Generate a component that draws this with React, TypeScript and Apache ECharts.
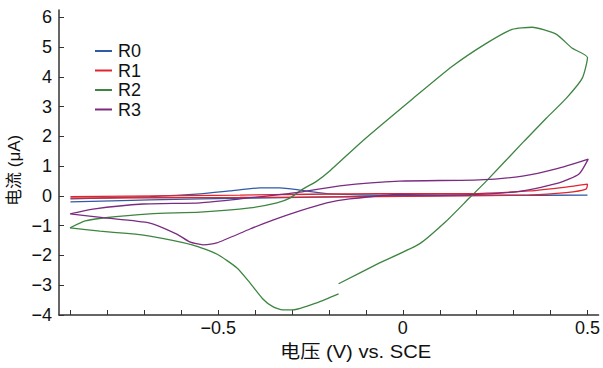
import React, { useEffect, useRef } from "react";
import * as echarts from "echarts";

// Potential (V vs. SCE) and current (μA) points
const r0: number[][] = [
  [-0.90, -0.10], [-0.685, -0.02], [-0.549, 0.07], [-0.468, 0.17], [-0.387, 0.27],
  [-0.333, 0.27], [-0.279, 0.20], [-0.198, 0.07], [-0.009, 0.03], [0.261, 0.03],
  [0.50, 0.03], [0.261, 0.02], [-0.009, 0.0], [-0.279, -0.05], [-0.549, -0.10],
  [-0.685, -0.13], [-0.90, -0.20],
];

const r1: number[][] = [
  [-0.90, -0.02], [-0.441, 0.03], [-0.063, 0.08], [0.18, 0.08], [0.342, 0.17],
  [0.442, 0.30], [0.50, 0.40], [0.496, 0.23], [0.442, 0.11], [0.342, 0.03],
  [-0.063, -0.02], [-0.441, -0.05], [-0.90, -0.07],
];

// R2 has a small break in its return sweep, so it is kept in two parts
const r2a: number[][] = [
  [-0.901, -1.07], [-0.86, -0.84], [-0.812, -0.74], [-0.685, -0.60], [-0.549, -0.54],
  [-0.414, -0.40], [-0.341, -0.23], [-0.306, -0.07], [-0.271, 0.23], [-0.233, 0.50],
  [-0.198, 0.84], [-0.109, 1.85], [0.026, 3.26], [0.134, 4.36], [0.226, 5.13],
  [0.296, 5.60], [0.35, 5.67], [0.415, 5.44], [0.458, 4.97], [0.50, 4.65],
  [0.486, 3.96], [0.443, 3.29], [0.389, 2.62], [0.329, 1.85], [0.226, 0.50],
  [0.18, -0.07], [0.118, -0.84], [0.045, -1.61], [-0.063, -2.25], [-0.174, -2.95],
];
const r2b: number[][] = [
  [-0.174, -3.29], [-0.233, -3.59], [-0.298, -3.83], [-0.325, -3.83], [-0.352, -3.72],
  [-0.379, -3.46], [-0.414, -2.92], [-0.449, -2.42], [-0.504, -1.95], [-0.568, -1.65],
  [-0.685, -1.35], [-0.747, -1.26], [-0.82, -1.18], [-0.901, -1.07],
];

const r3: number[][] = [
  [-0.901, -0.60], [-0.839, -0.44], [-0.703, -0.27], [-0.549, -0.23], [-0.441, -0.10],
  [-0.279, 0.13], [-0.171, 0.34], [-0.009, 0.50], [0.207, 0.54], [0.324, 0.67],
  [0.415, 0.91], [0.502, 1.24], [0.477, 0.74], [0.423, 0.44], [0.324, 0.17],
  [0.234, 0.07], [0.099, 0.03], [-0.009, 0.05], [-0.144, -0.10], [-0.206, -0.23],
  [-0.279, -0.50], [-0.352, -0.81], [-0.414, -1.11], [-0.504, -1.58], [-0.541, -1.64],
  [-0.577, -1.54], [-0.612, -1.28], [-0.685, -0.91], [-0.812, -0.73], [-0.901, -0.60],
];

const seriesNames = ["R0", "R1", "R2", "R3"];
const colors = ["#2f5aa6", "#de2630", "#3d8540", "#7a2c80"];
const xTicks = [-0.9, -0.8, -0.7, -0.6, -0.5, -0.4, -0.3, -0.2, -0.1, 0, 0.1, 0.2, 0.3, 0.4, 0.5];
const xLabels = [-0.5, 0, 0.5];
const yTicks = [-4, -3, -2, -1, 0, 1, 2, 3, 4, 5, 6];

const fontFamily = "'Liberation Sans', Arial, sans-serif";
const cjkFont = "'Liberation Sans', 'Noto Sans CJK SC', sans-serif";

const fmt = (v: number) => {
  const s = String(Math.round(v * 10) / 10);
  return s.replace("-", "\u2212");
};

export default function App() {
  const ref = useRef<HTMLDivElement>(null);
  useEffect(() => {
    if (!ref.current) return;
    const chart = echarts.init(ref.current, undefined, { renderer: "svg" });
    const lineSeries = (name: string, data: number[][], color: string) => ({
      name,
      type: "line",
      data,
      symbol: "none",
      smooth: 0.2,
      lineStyle: { color, width: 1.3 },
      itemStyle: { color },
    });
    chart.setOption({
      animation: false,
      grid: { left: 59, right: 3, top: 10, bottom: 53 },
      legend: {
        data: seriesNames,
        orient: "vertical",
        left: 89,
        top: 37,
        itemWidth: 17,
        itemHeight: 14,
        itemGap: 1.5,
        itemStyle: { opacity: 0 },
        textStyle: { fontSize: 18, color: "#111", fontFamily, padding: [0, 0, 0, 1] },
      },
      xAxis: {
        type: "value",
        min: -0.931,
        max: 0.53,
        axisLine: { show: true, onZero: false, lineStyle: { color: "#333", width: 1.5 } },
        axisTick: { show: true, inside: true, length: 5, customValues: xTicks, lineStyle: { color: "#333" } },
        axisLabel: {
          customValues: xLabels,
          formatter: fmt,
          fontSize: 18,
          color: "#111",
          fontFamily,
          margin: 4,
        },
        splitLine: { show: false },
      },
      yAxis: {
        type: "value",
        min: -4,
        max: 6.25,
        axisLine: { show: true, onZero: false, lineStyle: { color: "#333", width: 1.5 } },
        axisTick: { show: true, inside: true, length: 5, customValues: yTicks, lineStyle: { color: "#333" } },
        axisLabel: {
          customValues: yTicks,
          formatter: fmt,
          fontSize: 18,
          color: "#111",
          fontFamily,
          margin: 7,
        },
        splitLine: { show: false },
      },
      graphic: [
        {
          type: "text",
          x: 280,
          y: 343,
          scaleX: 1.12,
          style: { text: "电压 (V) vs. SCE", fill: "#111", font: `18px ${cjkFont}` },
        },
        {
          type: "text",
          x: 6,
          y: 206,
          rotation: Math.PI / 2,
          style: { text: "电流 (μA)", fill: "#111", font: `17px ${cjkFont}` },
        },
      ],
      series: [
        lineSeries("R0", r0, colors[0]),
        lineSeries("R1", r1, colors[1]),
        lineSeries("R2", r2a, colors[2]),
        lineSeries("R2", r2b, colors[2]),
        lineSeries("R3", r3, colors[3]),
      ],
    });
    return () => chart.dispose();
  }, []);
  return (
    <div
      ref={ref}
      style={{ position: "fixed", left: 0, top: 0, width: 603, height: 368, background: "#fff" }}
    />
  );
}
